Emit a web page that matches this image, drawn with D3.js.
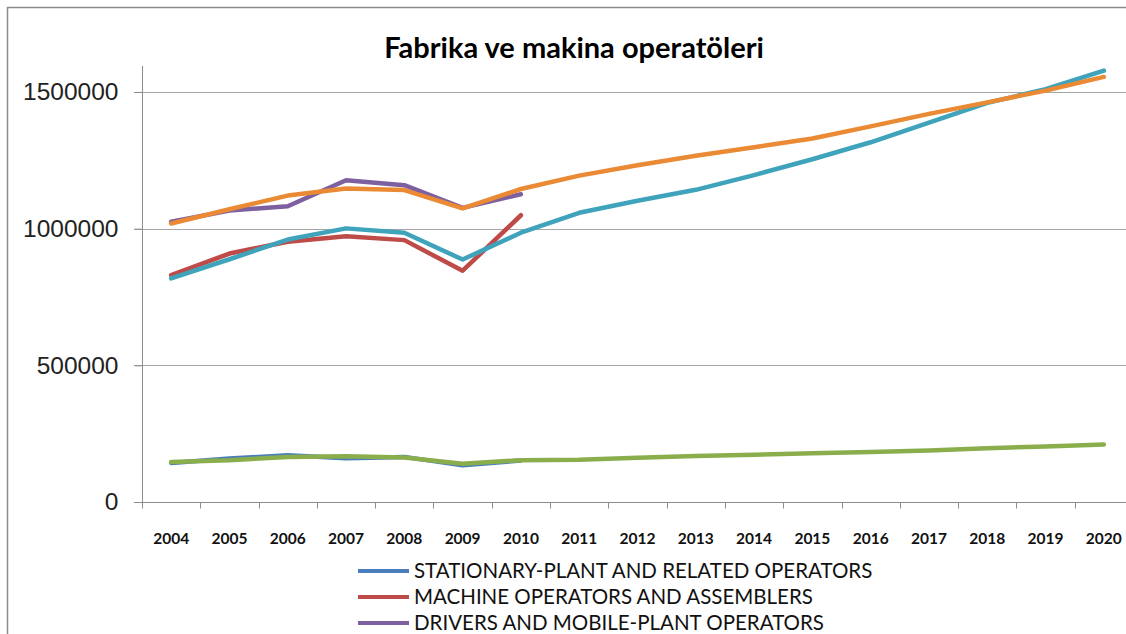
<!DOCTYPE html>
<html>
<head>
<meta charset="utf-8">
<script src="https://cdn.jsdelivr.net/npm/d3@7"></script>
<style>
  html, body { margin: 0; padding: 0; background: #fff; }
  svg { display: block; }
</style>
</head>
<body>
<svg id="chart" width="1126" height="634"></svg>
<script>
// ---- data ----
const years = ["2004","2005","2006","2007","2008","2009","2010","2011","2012","2013","2014","2015","2016","2017","2018","2019","2020"];
const yTicks = [0, 500000, 1000000, 1500000];
const titleText = "Fabrika ve makina operatöleri";

// observed series (2004-2010)
const stationary = [143000, 159000, 171000, 160000, 165000, 134000, 152000];
const machine    = [830000, 909000, 952000, 972000, 958000, 846000, 1049000];
const drivers    = [1025000, 1066000, 1082000, 1177000, 1159000, 1076000, 1126000];
// projected series (2004-2020)
const machineProj   = [818000, 888000, 960000, 1001000, 985000, 887000, 985000, 1058000, 1102000, 1142000, 1196000, 1254000, 1316000, 1388000, 1460000, 1510000, 1578000];
const driversProj   = [1019000, 1071000, 1121000, 1147000, 1141000, 1074000, 1145000, 1194000, 1232000, 1267000, 1298000, 1330000, 1374000, 1420000, 1462000, 1505000, 1555000];
const stationaryProj= [146000, 153000, 165000, 167000, 163000, 140000, 153000, 155000, 162000, 168000, 173000, 178000, 183000, 188000, 197000, 203000, 210000];

const legendNames = ["STATIONARY-PLANT AND RELATED OPERATORS", "MACHINE OPERATORS AND ASSEMBLERS", "DRIVERS AND MOBILE-PLANT OPERATORS"];
const legendColors = ["#4a7ebb", "#be4b48", "#7d60a0"];

const series = [
  { values: stationary,     color: "#4a7ebb" },
  { values: machine,        color: "#be4b48" },
  { values: drivers,        color: "#7d60a0" },
  { values: machineProj,    color: "#3fa3bb" },
  { values: driversProj,    color: "#ea8a34" },
  { values: stationaryProj, color: "#8aae4c" }
];

// ---- layout ----
const svg = d3.select("#chart");
const plot = { left: 142, right: 1133, top: 66, bottom: 502 };

const x = d3.scaleBand().domain(years).range([plot.left, plot.right]).paddingInner(0).paddingOuter(0);
const y = d3.scaleLinear().domain([0, 1595000]).range([plot.bottom, plot.top]);

// outer border
svg.append("rect").attr("x", 7.5).attr("y", 7.5).attr("width", 1200).attr("height", 700)
  .attr("fill", "none").attr("stroke", "#8c8c8c").attr("stroke-width", 1.5);

// title
svg.append("text").attr("x", 574).attr("y", 58).attr("text-anchor", "middle")
  .attr("font-family", "Lato, 'Open Sans', sans-serif").attr("font-weight", "bold").attr("font-size", 29)
  .attr("fill", "#000").text(titleText);

// gridlines
svg.append("g").selectAll("line").data(yTicks.filter(d => d > 0)).join("line")
  .attr("x1", plot.left - 8).attr("x2", 1126)
  .attr("y1", d => Math.round(y(d)) + 0.5).attr("y2", d => Math.round(y(d)) + 0.5)
  .attr("stroke", "#a6a6a6").attr("stroke-width", 1);

// y axis
const yAxis = svg.append("g").attr("transform", `translate(${plot.left + 0.5},0)`)
  .call(d3.axisLeft(y).tickValues(yTicks).tickSize(8).tickPadding(16).tickFormat(d3.format("d")));
yAxis.select(".domain").attr("stroke", "#8c8c8c").attr("d", `M0,${plot.top}V${plot.bottom}`);
yAxis.selectAll(".tick line").attr("stroke", "#8c8c8c");
yAxis.selectAll(".tick text").attr("font-family", "'Liberation Sans', Arial, sans-serif").attr("font-size", 24.5).attr("fill", "#222");

// x axis (ticks between categories)
const xAxisG = svg.append("g").attr("transform", `translate(0,${plot.bottom + 0.5})`);
xAxisG.append("line").attr("x1", plot.left - 8).attr("x2", 1126).attr("y1", 0).attr("y2", 0).attr("stroke", "#8c8c8c");
const boundaries = years.map(d => x(d)).concat([x(years[years.length - 1]) + x.bandwidth()]);
xAxisG.selectAll("line.tk").data(boundaries).join("line").attr("class", "tk")
  .attr("x1", d => Math.round(d) + 0.5).attr("x2", d => Math.round(d) + 0.5).attr("y1", 0).attr("y2", 6)
  .attr("stroke", "#8c8c8c");
xAxisG.selectAll("text").data(years).join("text")
  .attr("x", d => x(d) + x.bandwidth() / 2).attr("y", 41).attr("text-anchor", "middle")
  .attr("font-family", "Lato, sans-serif").attr("font-weight", "bold").attr("font-size", 15.5).attr("fill", "#111")
  .text(d => d);

// lines
const line = d3.line().x((d, i) => x(years[i]) + x.bandwidth() / 2).y(d => y(d));
svg.append("g").selectAll("path").data(series).join("path")
  .attr("d", d => line(d.values))
  .attr("fill", "none").attr("stroke", d => d.color).attr("stroke-width", 4.5)
  .attr("stroke-linejoin", "round").attr("stroke-linecap", "round");

// legend
const lg = svg.append("g");
legendNames.forEach((name, i) => {
  const yy = 571 + i * 26;
  lg.append("line").attr("x1", 358).attr("x2", 409).attr("y1", yy).attr("y2", yy)
    .attr("stroke", legendColors[i]).attr("stroke-width", 4);
  lg.append("text").attr("x", 414).attr("y", yy).attr("dy", "0.36em")
    .attr("font-family", "Lato, sans-serif").attr("font-size", 20.5).attr("fill", "#111")
    .text(name);
});
</script>
</body>
</html>
